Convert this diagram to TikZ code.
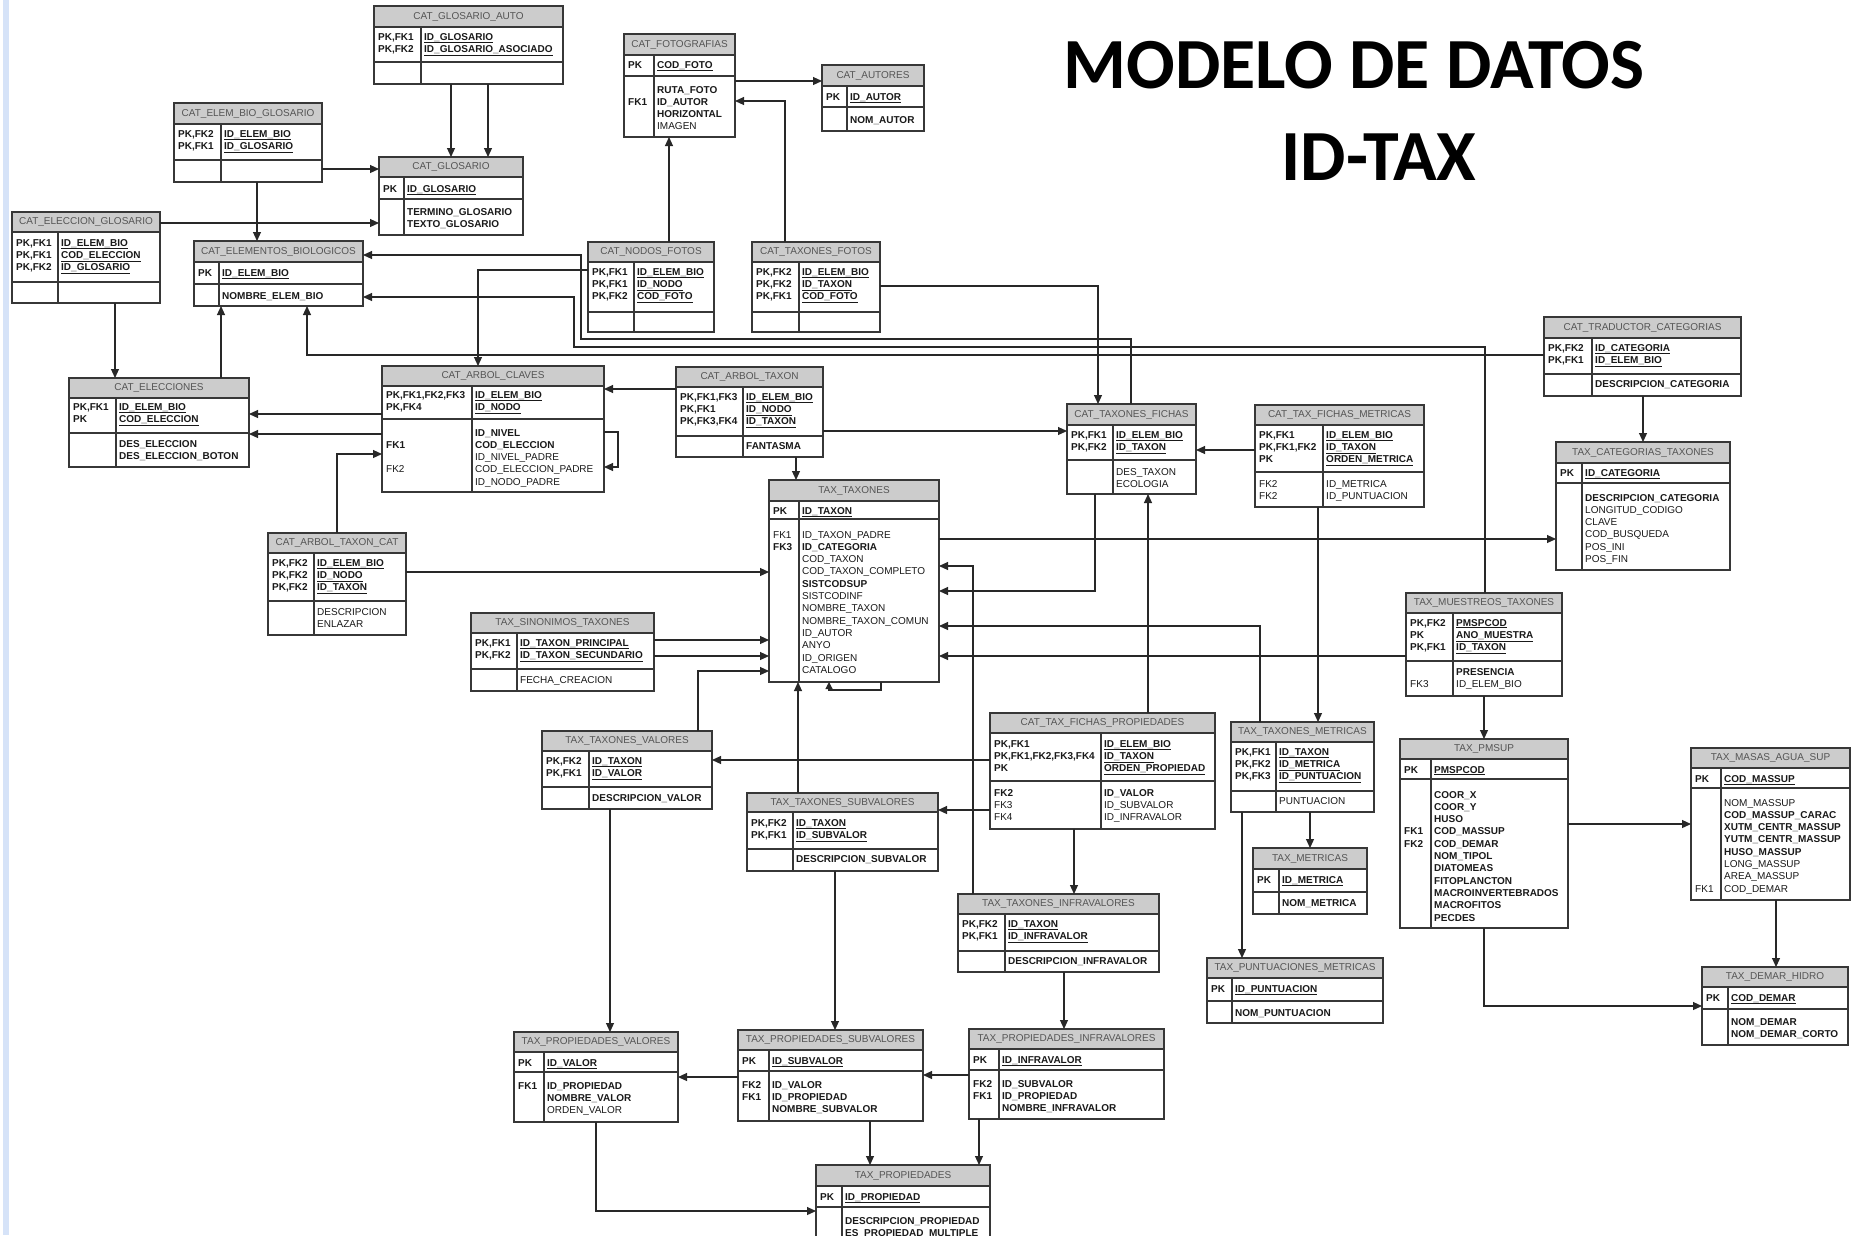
\documentclass[tikz,border=0pt]{standalone}
\usepackage{fontspec}
\setmainfont{Liberation Sans}
\newfontfamily\titulofuente{Carlito}
\usetikzlibrary{arrows.meta}

\definecolor{grisCab}{RGB}{204,204,204}
\definecolor{borde}{RGB}{55,55,55}
\definecolor{linea}{RGB}{40,40,40}
\definecolor{txt}{RGB}{25,25,25}
\definecolor{txtCab}{RGB}{85,85,85}
\definecolor{franja}{RGB}{214,227,248}

\newcommand{\letra}{\fontsize{10}{12.3}\selectfont\hyphenpenalty=10000\relax}
\newcommand{\clave}[1]{\underline{\textbf{#1}}}

\tikzset{
  caja/.style={draw=borde, line width=1.4pt, anchor=north west, inner sep=0pt, outer sep=0pt},
  rejilla/.style={draw=borde, line width=1.2pt},
  cabecera/.style={fill=grisCab},
  titcab/.style={font=\fontsize{10}{12}\selectfont, text=txtCab, inner sep=0pt},
  clavecol/.style={anchor=base west, inner sep=0pt, align=left, font=\letra\bfseries, text=txt},
  campocol/.style={anchor=base west, inner sep=0pt, align=left, font=\letra, text=txt},
  relacion/.style={draw=linea, line width=1.1pt, -{Triangle[length=9pt,width=8pt]}},
  titulo/.style={anchor=base, inner sep=0pt, font=\titulofuente\bfseries\fontsize{72}{80}\selectfont, text=black}
}

% table: name, x1, y1, x2, y2, header bottom, key bottom, divider, title
\newcommand{\tabla}[9]{%
  \fill[cabecera] (#2,#3) rectangle (#4,#6);
  \node[caja, minimum width={#4-#2}, minimum height={#5-#3}] (#1) at (#2,#3) {};
  \draw[rejilla] (#2,#6) -- (#4,#6) (#2,#7) -- (#4,#7) (#8,#6) -- (#8,#5);
  \node[titcab] (#1-t) at ({(#2+#4)/2},{(#3+#6)/2}) {#9};
}
% rows: name, x1, divider, x2, first baseline, labels, fields
\newcommand{\filas}[7]{%
  \pgfmathsetmacro{\anchoA}{#3-#2-5}%
  \pgfmathsetmacro{\anchoB}{#4-#3-4}%
  \node[clavecol, text width=\anchoA pt] (#1c) at ({#2+4},#5) {#6};
  \node[campocol, text width=\anchoB pt] (#1f) at ({#3+3},#5) {#7};
}

\begin{document}
\begin{tikzpicture}[x=1pt,y=1pt,yscale=-1,xscale=1]
\path[use as bounding box] (0,0) rectangle (1851,1235);
\fill[white] (0,0) rectangle (1851,1235);
\clip (0,0) rectangle (1851,1235);

%Shape: left strip
\fill[franja] (3,0) rectangle (9,1235);

% Title
\node[titulo] (modelo) at (1354,88) {MODELO DE DATOS};
\node[titulo] (idtax) at (1379,180) {ID-TAX};

%Shape: Table CAT_GLOSARIO_AUTO
\tabla{gauto}{374}{6}{563}{84}{27}{62}{421}{CAT\_GLOSARIO\_AUTO}
\filas{gauto-k}{374}{421}{563}{40}{PK,FK1\\PK,FK2}{\clave{ID\_GLOSARIO}\\\clave{ID\_GLOSARIO\_ASOCIADO}}

%Shape: Table CAT_ELEM_BIO_GLOSARIO
\tabla{ebglos}{174}{103}{322}{182}{124}{160}{221}{CAT\_ELEM\_BIO\_GLOSARIO}
\filas{ebglos-k}{174}{221}{322}{137}{PK,FK2\\PK,FK1}{\clave{ID\_ELEM\_BIO}\\\clave{ID\_GLOSARIO}}

%Shape: Table CAT_GLOSARIO
\tabla{glos}{379}{157}{523}{235}{177}{199}{404}{CAT\_GLOSARIO}
\filas{glos-k}{379}{404}{523}{192}{PK}{\clave{ID\_GLOSARIO}}
\filas{glos-a}{379}{404}{523}{215}{}{\textbf{TERMINO\_GLOSARIO}\\\textbf{TEXTO\_GLOSARIO}}

%Shape: Table CAT_ELECCION_GLOSARIO
\tabla{eglos}{12}{212}{160}{303}{232}{282}{58}{CAT\_ELECCION\_GLOSARIO}
\filas{eglos-k}{12}{58}{160}{246}{PK,FK1\\PK,FK1\\PK,FK2}{\clave{ID\_ELEM\_BIO}\\\clave{COD\_ELECCION}\\\clave{ID\_GLOSARIO}}

%Shape: Table CAT_ELEMENTOS_BIOLOGICOS
\tabla{elem}{194}{241}{363}{306}{262}{284}{219}{CAT\_ELEMENTOS\_BIOLOGICOS}
\filas{elem-k}{194}{219}{363}{276}{PK}{\clave{ID\_ELEM\_BIO}}
\filas{elem-a}{194}{219}{363}{299}{}{\textbf{NOMBRE\_ELEM\_BIO}}

%Shape: Table CAT_ELECCIONES
\tabla{elec}{69}{378}{249}{467}{398}{433}{116}{CAT\_ELECCIONES}
\filas{elec-k}{69}{116}{249}{410}{PK,FK1\\PK}{\clave{ID\_ELEM\_BIO}\\\clave{COD\_ELECCION}}
\filas{elec-a}{69}{116}{249}{447}{}{\textbf{DES\_ELECCION}\\\textbf{DES\_ELECCION\_BOTON}}

%Shape: Table CAT_ARBOL_CLAVES
\tabla{arbcl}{382}{366}{604}{492}{386}{419}{472}{CAT\_ARBOL\_CLAVES}
\filas{arbcl-k}{382}{472}{604}{398}{PK,FK1,FK2,FK3\\PK,FK4}{\clave{ID\_ELEM\_BIO}\\\clave{ID\_NODO}}
\filas{arbcl-a}{382}{472}{604}{436}{\mbox{}\\FK1\\\mbox{}\\\textmd{FK2}}{\textbf{ID\_NIVEL}\\\textbf{COD\_ELECCION}\\ID\_NIVEL\_PADRE\\COD\_ELECCION\_PADRE\\ID\_NODO\_PADRE}

%Shape: Table CAT_FOTOGRAFIAS
\tabla{foto}{624}{34}{735}{137}{55}{76}{654}{CAT\_FOTOGRAFIAS}
\filas{foto-k}{624}{654}{735}{68}{PK}{\clave{COD\_FOTO}}
\filas{foto-a}{624}{654}{735}{93}{\mbox{}\\FK1}{\textbf{RUTA\_FOTO}\\\textbf{ID\_AUTOR}\\\textbf{HORIZONTAL}\\IMAGEN}

%Shape: Table CAT_AUTORES
\tabla{autor}{822}{65}{924}{131}{86}{107}{847}{CAT\_AUTORES}
\filas{autor-k}{822}{847}{924}{100}{PK}{\clave{ID\_AUTOR}}
\filas{autor-a}{822}{847}{924}{123}{}{\textbf{NOM\_AUTOR}}

%Shape: Table CAT_NODOS_FOTOS
\tabla{nfoto}{588}{242}{714}{332}{262}{312}{634}{CAT\_NODOS\_FOTOS}
\filas{nfoto-k}{588}{634}{714}{275}{PK,FK1\\PK,FK1\\PK,FK2}{\clave{ID\_ELEM\_BIO}\\\clave{ID\_NODO}\\\clave{COD\_FOTO}}

%Shape: Table CAT_TAXONES_FOTOS
\tabla{tfoto}{752}{242}{880}{332}{262}{312}{799}{CAT\_TAXONES\_FOTOS}
\filas{tfoto-k}{752}{799}{880}{275}{PK,FK2\\PK,FK2\\PK,FK1}{\clave{ID\_ELEM\_BIO}\\\clave{ID\_TAXON}\\\clave{COD\_FOTO}}

%Shape: Table CAT_ARBOL_TAXON
\tabla{arbtax}{676}{367}{823}{457}{387}{436}{743}{CAT\_ARBOL\_TAXON}
\filas{arbtax-k}{676}{743}{823}{400}{PK,FK1,FK3\\PK,FK1\\PK,FK3,FK4}{\clave{ID\_ELEM\_BIO}\\\clave{ID\_NODO}\\\clave{ID\_TAXON}}
\filas{arbtax-a}{676}{743}{823}{449}{}{\textbf{FANTASMA}}

%Shape: Table TAX_TAXONES
\tabla{taxon}{769}{480}{939}{682}{501}{519}{799}{TAX\_TAXONES}
\filas{taxon-k}{769}{799}{939}{514}{PK}{\clave{ID\_TAXON}}
\filas{taxon-a}{769}{799}{939}{538}{\textmd{FK1}\\FK3}{ID\_TAXON\_PADRE\\\textbf{ID\_CATEGORIA}\\COD\_TAXON\\COD\_TAXON\_COMPLETO\\\textbf{SISTCODSUP}\\SISTCODINF\\NOMBRE\_TAXON\\NOMBRE\_TAXON\_COMUN\\ID\_AUTOR\\ANYO\\ID\_ORIGEN\\CATALOGO}

%Shape: Table CAT_TAXONES_FICHAS
\tabla{fichas}{1067}{404}{1196}{494}{425}{460}{1113}{CAT\_TAXONES\_FICHAS}
\filas{fichas-k}{1067}{1113}{1196}{438}{PK,FK1\\PK,FK2}{\clave{ID\_ELEM\_BIO}\\\clave{ID\_TAXON}}
\filas{fichas-a}{1067}{1113}{1196}{475}{}{DES\_TAXON\\ECOLOGIA}

%Shape: Table CAT_TAX_FICHAS_METRICAS
\tabla{fmet}{1255}{405}{1424}{507}{425}{472}{1323}{CAT\_TAX\_FICHAS\_METRICAS}
\filas{fmet-k}{1255}{1323}{1424}{438}{PK,FK1\\PK,FK1,FK2\\PK}{\clave{ID\_ELEM\_BIO}\\\clave{ID\_TAXON}\\\clave{ORDEN\_METRICA}}
\filas{fmet-a}{1255}{1323}{1424}{487}{\textmd{FK2}\\\textmd{FK2}}{ID\_METRICA\\ID\_PUNTUACION}

%Shape: Table CAT_TRADUCTOR_CATEGORIAS
\tabla{trad}{1544}{317}{1741}{396}{338}{374}{1592}{CAT\_TRADUCTOR\_CATEGORIAS}
\filas{trad-k}{1544}{1592}{1741}{351}{PK,FK2\\PK,FK1}{\clave{ID\_CATEGORIA}\\\clave{ID\_ELEM\_BIO}}
\filas{trad-a}{1544}{1592}{1741}{387}{}{\textbf{DESCRIPCION\_CATEGORIA}}

%Shape: Table TAX_CATEGORIAS_TAXONES
\tabla{cat}{1556}{442}{1730}{570}{463}{483}{1582}{TAX\_CATEGORIAS\_TAXONES}
\filas{cat-k}{1556}{1582}{1730}{476}{PK}{\clave{ID\_CATEGORIA}}
\filas{cat-a}{1556}{1582}{1730}{501}{}{\textbf{DESCRIPCION\_CATEGORIA}\\LONGITUD\_CODIGO\\CLAVE\\COD\_BUSQUEDA\\POS\_INI\\POS\_FIN}

%Shape: Table TAX_MUESTREOS_TAXONES
\tabla{muest}{1406}{593}{1562}{696}{613}{661}{1453}{TAX\_MUESTREOS\_TAXONES}
\filas{muest-k}{1406}{1453}{1562}{626}{PK,FK2\\PK\\PK,FK1}{\clave{PMSPCOD}\\\clave{ANO\_MUESTRA}\\\clave{ID\_TAXON}}
\filas{muest-a}{1406}{1453}{1562}{675}{\mbox{}\\\textmd{FK3}}{\textbf{PRESENCIA}\\ID\_ELEM\_BIO}

%Shape: Table TAX_PMSUP
\tabla{pmsup}{1400}{739}{1568}{928}{759}{779}{1431}{TAX\_PMSUP}
\filas{pmsup-k}{1400}{1431}{1568}{773}{PK}{\clave{PMSPCOD}}
\filas{pmsup-a}{1400}{1431}{1568}{798}{\mbox{}\\\mbox{}\\\mbox{}\\FK1\\FK2}{\textbf{COOR\_X}\\\textbf{COOR\_Y}\\\textbf{HUSO}\\\textbf{COD\_MASSUP}\\\textbf{COD\_DEMAR}\\\textbf{NOM\_TIPOL}\\\textbf{DIATOMEAS}\\\textbf{FITOPLANCTON}\\\textbf{MACROINVERTEBRADOS}\\\textbf{MACROFITOS}\\\textbf{PECDES}}

%Shape: Table TAX_MASAS_AGUA_SUP
\tabla{masas}{1691}{748}{1850}{900}{768}{788}{1721}{TAX\_MASAS\_AGUA\_SUP}
\filas{masas-k}{1691}{1721}{1850}{782}{PK}{\clave{COD\_MASSUP}}
\filas{masas-a}{1691}{1721}{1850}{806}{\mbox{}\\\mbox{}\\\mbox{}\\\mbox{}\\\mbox{}\\\mbox{}\\\mbox{}\\\textmd{FK1}}{NOM\_MASSUP\\\textbf{COD\_MASSUP\_CARAC}\\\textbf{XUTM\_CENTR\_MASSUP}\\\textbf{YUTM\_CENTR\_MASSUP}\\\textbf{HUSO\_MASSUP}\\LONG\_MASSUP\\AREA\_MASSUP\\COD\_DEMAR}

%Shape: Table TAX_DEMAR_HIDRO
\tabla{demar}{1702}{967}{1848}{1045}{987}{1009}{1728}{TAX\_DEMAR\_HIDRO}
\filas{demar-k}{1702}{1728}{1848}{1001}{PK}{\clave{COD\_DEMAR}}
\filas{demar-a}{1702}{1728}{1848}{1025}{}{\textbf{NOM\_DEMAR}\\\textbf{NOM\_DEMAR\_CORTO}}

%Shape: Table CAT_ARBOL_TAXON_CAT
\tabla{atcat}{268}{533}{406}{635}{553}{601}{314}{CAT\_ARBOL\_TAXON\_CAT}
\filas{atcat-k}{268}{314}{406}{566}{PK,FK2\\PK,FK2\\PK,FK2}{\clave{ID\_ELEM\_BIO}\\\clave{ID\_NODO}\\\clave{ID\_TAXON}}
\filas{atcat-a}{268}{314}{406}{615}{}{DESCRIPCION\\ENLAZAR}

%Shape: Table TAX_SINONIMOS_TAXONES
\tabla{sinon}{471}{613}{654}{691}{633}{669}{517}{TAX\_SINONIMOS\_TAXONES}
\filas{sinon-k}{471}{517}{654}{646}{PK,FK1\\PK,FK2}{\clave{ID\_TAXON\_PRINCIPAL}\\\clave{ID\_TAXON\_SECUNDARIO}}
\filas{sinon-a}{471}{517}{654}{683}{}{FECHA\_CREACION}

%Shape: Table TAX_TAXONES_VALORES
\tabla{tval}{542}{731}{712}{809}{751}{787}{589}{TAX\_TAXONES\_VALORES}
\filas{tval-k}{542}{589}{712}{764}{PK,FK2\\PK,FK1}{\clave{ID\_TAXON}\\\clave{ID\_VALOR}}
\filas{tval-a}{542}{589}{712}{801}{}{\textbf{DESCRIPCION\_VALOR}}

%Shape: Table TAX_TAXONES_SUBVALORES
\tabla{tsub}{747}{793}{938}{871}{812}{849}{793}{TAX\_TAXONES\_SUBVALORES}
\filas{tsub-k}{747}{793}{938}{826}{PK,FK2\\PK,FK1}{\clave{ID\_TAXON}\\\clave{ID\_SUBVALOR}}
\filas{tsub-a}{747}{793}{938}{862}{}{\textbf{DESCRIPCION\_SUBVALOR}}

%Shape: Table CAT_TAX_FICHAS_PROPIEDADES
\tabla{fprop}{990}{713}{1215}{829}{733}{781}{1101}{CAT\_TAX\_FICHAS\_PROPIEDADES}
\filas{fprop-k}{990}{1101}{1215}{747}{PK,FK1\\PK,FK1,FK2,FK3,FK4\\PK}{\clave{ID\_ELEM\_BIO}\\\clave{ID\_TAXON}\\\clave{ORDEN\_PROPIEDAD}}
\filas{fprop-a}{990}{1101}{1215}{796}{FK2\\\textmd{FK3}\\\textmd{FK4}}{\textbf{ID\_VALOR}\\ID\_SUBVALOR\\ID\_INFRAVALOR}

%Shape: Table TAX_TAXONES_INFRAVALORES
\tabla{tinfra}{958}{894}{1159}{972}{914}{951}{1005}{TAX\_TAXONES\_INFRAVALORES}
\filas{tinfra-k}{958}{1005}{1159}{927}{PK,FK2\\PK,FK1}{\clave{ID\_TAXON}\\\clave{ID\_INFRAVALOR}}
\filas{tinfra-a}{958}{1005}{1159}{964}{}{\textbf{DESCRIPCION\_INFRAVALOR}}

%Shape: Table TAX_TAXONES_METRICAS
\tabla{tmet}{1231}{722}{1374}{812}{742}{791}{1276}{TAX\_TAXONES\_METRICAS}
\filas{tmet-k}{1231}{1276}{1374}{755}{PK,FK1\\PK,FK2\\PK,FK3}{\clave{ID\_TAXON}\\\clave{ID\_METRICA}\\\clave{ID\_PUNTUACION}}
\filas{tmet-a}{1231}{1276}{1374}{804}{}{PUNTUACION}

%Shape: Table TAX_METRICAS
\tabla{metr}{1253}{848}{1367}{914}{869}{892}{1279}{TAX\_METRICAS}
\filas{metr-k}{1253}{1279}{1367}{883}{PK}{\clave{ID\_METRICA}}
\filas{metr-a}{1253}{1279}{1367}{906}{}{\textbf{NOM\_METRICA}}

%Shape: Table TAX_PUNTUACIONES_METRICAS
\tabla{punt}{1207}{958}{1383}{1023}{978}{1001}{1232}{TAX\_PUNTUACIONES\_METRICAS}
\filas{punt-k}{1207}{1232}{1383}{992}{PK}{\clave{ID\_PUNTUACION}}
\filas{punt-a}{1207}{1232}{1383}{1016}{}{\textbf{NOM\_PUNTUACION}}

%Shape: Table TAX_PROPIEDADES_VALORES
\tabla{pval}{514}{1032}{678}{1122}{1052}{1072}{544}{TAX\_PROPIEDADES\_VALORES}
\filas{pval-k}{514}{544}{678}{1066}{PK}{\clave{ID\_VALOR}}
\filas{pval-a}{514}{544}{678}{1089}{FK1}{\textbf{ID\_PROPIEDAD}\\\textbf{NOMBRE\_VALOR}\\ORDEN\_VALOR}

%Shape: Table TAX_PROPIEDADES_SUBVALORES
\tabla{psub}{738}{1030}{923}{1121}{1050}{1071}{769}{TAX\_PROPIEDADES\_SUBVALORES}
\filas{psub-k}{738}{769}{923}{1064}{PK}{\clave{ID\_SUBVALOR}}
\filas{psub-a}{738}{769}{923}{1088}{FK2\\FK1}{\textbf{ID\_VALOR}\\\textbf{ID\_PROPIEDAD}\\\textbf{NOMBRE\_SUBVALOR}}

%Shape: Table TAX_PROPIEDADES_INFRAVALORES
\tabla{pinf}{969}{1029}{1164}{1119}{1049}{1070}{999}{TAX\_PROPIEDADES\_INFRAVALORES}
\filas{pinf-k}{969}{999}{1164}{1063}{PK}{\clave{ID\_INFRAVALOR}}
\filas{pinf-a}{969}{999}{1164}{1087}{FK2\\FK1}{\textbf{ID\_SUBVALOR}\\\textbf{ID\_PROPIEDAD}\\\textbf{NOMBRE\_INFRAVALOR}}

%Shape: Table TAX_PROPIEDADES
\tabla{prop}{816}{1165}{990}{1262}{1186}{1207}{842}{TAX\_PROPIEDADES}
\filas{prop-k}{816}{842}{990}{1200}{PK}{\clave{ID\_PROPIEDAD}}
\filas{prop-a}{816}{842}{990}{1224}{}{\textbf{DESCRIPCION\_PROPIEDAD}\\\textbf{ES\_PROPIEDAD\_MULTIPLE}}

%Connectors
\draw[relacion] (gauto.south -| 451,0) -- (glos.north -| 451,0);
\draw[relacion] (gauto.south -| 488,0) -- (glos.north -| 488,0);
\draw[relacion] (ebglos.east |- 0,169) -- (glos.west |- 0,169);
\draw[relacion] (ebglos.south -| 257,0) -- (elem.north -| 257,0);
\draw[relacion] (eglos.east |- 0,223) -- (glos.west |- 0,223);
\draw[relacion] (eglos.south -| 115,0) -- (elec.north -| 115,0);
\draw[relacion] (elec.north -| 221,0) -- (elem.south -| 221,0);
\draw[relacion] (fichas.north -| 1131,0) |- (581,339) |- (elem.east |- 0,255);
\draw[relacion] (muest.north -| 1485,0) |- (574,347) |- (elem.east |- 0,297);
\draw[relacion] (trad.west |- 0,355) -| (elem.south -| 307,0);
\draw[relacion] (arbcl.west |- 0,414) -- (elec.east |- 0,414);
\draw[relacion] (arbcl.west |- 0,434) -- (elec.east |- 0,434);
\draw[relacion] (atcat.north -| 337,0) |- (arbcl.west |- 0,454);
\draw[relacion] (nfoto.west |- 0,270) -| (arbcl.north -| 478,0);
\draw[relacion] (arbtax.west |- 0,389) -- (arbcl.east |- 0,389);
\draw[relacion] (arbcl.east |- 0,432) -- ++(14,0) |- (arbcl.east |- 0,467);
\draw[relacion] (nfoto.north -| 669,0) -- (foto.south -| 669,0);
\draw[relacion] (foto.east |- 0,81) -- (autor.west |- 0,81);
\draw[relacion] (tfoto.north -| 785,0) |- (foto.east |- 0,101);
\draw[relacion] (tfoto.east |- 0,286) -| (fichas.north -| 1098,0);
\draw[relacion] (arbtax.south -| 796,0) -- (taxon.north -| 796,0);
\draw[relacion] (arbtax.east |- 0,431) -- (fichas.west |- 0,431);
\draw[relacion] (atcat.east |- 0,572) -- (taxon.west |- 0,572);
\draw[relacion] (sinon.east |- 0,640) -- (taxon.west |- 0,640);
\draw[relacion] (sinon.east |- 0,656) -- (taxon.west |- 0,656);
\draw[relacion] (tval.north -| 698,0) |- (taxon.west |- 0,671);
\draw[relacion] (tsub.north -| 798,0) -- (taxon.south -| 798,0);
\draw[relacion, -{Triangle[length=7pt,width=7pt]}] (taxon.south -| 881,0) -- ++(0,8) -| (taxon.south -| 829,0);
\draw[relacion] (tinfra.north -| 973,0) |- (taxon.east |- 0,566);
\draw[relacion] (fichas.south -| 1095,0) |- (taxon.east |- 0,591);
\draw[relacion] (tmet.north -| 1260,0) |- (taxon.east |- 0,626);
\draw[relacion] (muest.west |- 0,656) -- (taxon.east |- 0,656);
\draw[relacion] (taxon.east |- 0,539) -- (cat.west |- 0,539);
\draw[relacion] (fmet.west |- 0,450) -- (fichas.east |- 0,450);
\draw[relacion] (fprop.north -| 1148,0) -- (fichas.south -| 1148,0);
\draw[relacion] (fmet.south -| 1318,0) -- (tmet.north -| 1318,0);
\draw[relacion] (trad.south -| 1643,0) -- (cat.north -| 1643,0);
\draw[relacion] (muest.south -| 1484,0) -- (pmsup.north -| 1484,0);
\draw[relacion] (pmsup.east |- 0,824) -- (masas.west |- 0,824);
\draw[relacion] (pmsup.south -| 1484,0) |- (demar.west |- 0,1006);
\draw[relacion] (masas.south -| 1776,0) -- (demar.north -| 1776,0);
\draw[relacion] (fprop.west |- 0,760) -- (tval.east |- 0,760);
\draw[relacion] (fprop.west |- 0,810) -- (tsub.east |- 0,810);
\draw[relacion] (fprop.south -| 1074,0) -- (tinfra.north -| 1074,0);
\draw[relacion] (tval.south -| 610,0) -- (pval.north -| 610,0);
\draw[relacion] (tsub.south -| 835,0) -- (psub.north -| 835,0);
\draw[relacion] (tinfra.south -| 1064,0) -- (pinf.north -| 1064,0);
\draw[relacion] (tmet.south -| 1242,0) -- (punt.north -| 1242,0);
\draw[relacion] (tmet.south -| 1310,0) -- (metr.north -| 1310,0);
\draw[relacion] (psub.west |- 0,1077) -- (pval.east |- 0,1077);
\draw[relacion] (pinf.west |- 0,1075) -- (psub.east |- 0,1075);
\draw[relacion] (pval.south -| 596,0) |- (prop.west |- 0,1211);
\draw[relacion] (psub.south -| 870,0) -- (prop.north -| 870,0);
\draw[relacion] (pinf.south -| 979,0) -- (prop.north -| 979,0);

\end{tikzpicture}
\end{document}
